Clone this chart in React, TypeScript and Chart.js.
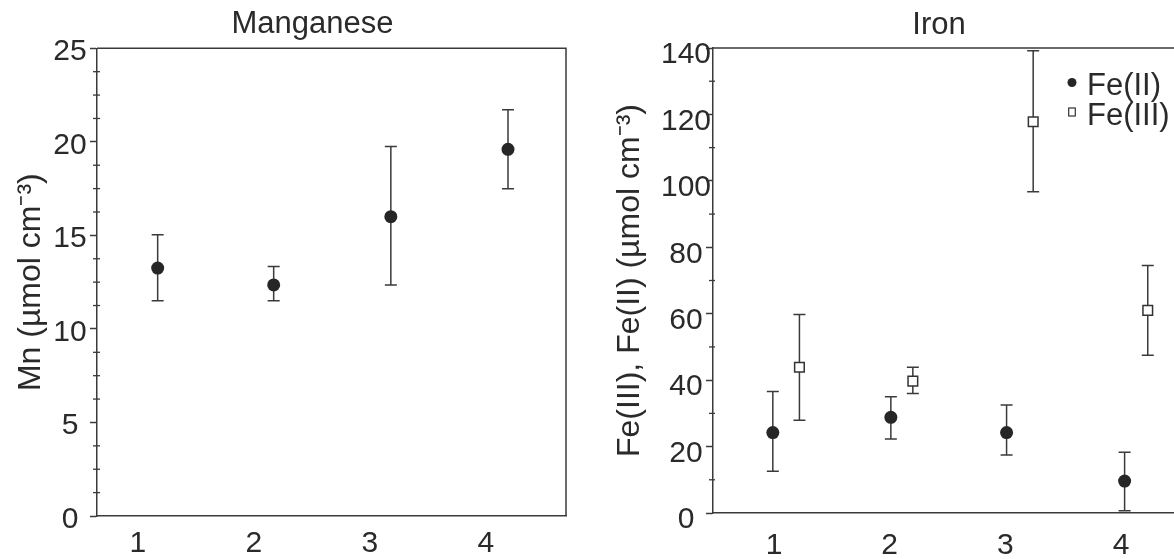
import React, { useEffect, useRef } from 'react';
import { Chart, registerables } from 'chart.js';

Chart.register(...registerables);

// ---------- data ----------
const xTickValues = [1, 2, 3, 4];

const mnYTicks = [0, 5, 10, 15, 20, 25];
const mnMinorTicks = [1.25, 2.5, 3.75, 6.25, 7.5, 8.75, 11.25, 12.5, 13.75, 16.25, 17.5, 18.75, 21.25, 22.5, 23.75];
const mnX = [1.17, 2.17, 3.18, 4.19];
const mnValues = [13.25, 12.35, 16.0, 19.6];
const mnLow = [11.51, 11.51, 12.35, 17.49];
const mnHigh = [15.03, 13.33, 19.75, 21.71];

const feYTicks = [0, 20, 40, 60, 80, 100, 120, 140];
const feMinorTicks = [10, 30, 50, 70, 90, 110, 130];
const fe2X = [0.99, 2.01, 3.01, 4.03];
const fe2Values = [24.2, 28.8, 24.2, 9.6];
const fe2Low = [12.6, 22.3, 17.5, 0.7];
const fe2High = [36.6, 35.0, 32.5, 18.3];
const fe3X = [1.22, 2.2, 3.24, 4.23];
const fe3Values = [43.9, 39.7, 117.8, 61.0];
const fe3Low = [27.9, 36.0, 96.7, 47.5];
const fe3High = [59.8, 43.9, 139.2, 74.5];

// ---------- styles ----------
const FONT = '"Liberation Sans", Arial, Helvetica, sans-serif';
const INK = '#2a2a2a';
const LINE = '#3a3a3a';
const DOT = '#262626';

const errorBarsPlugin = (capHalf: number) => ({
  id: 'errorBars',
  beforeDatasetsDraw(chart: any) {
    const { ctx } = chart;
    const xs = chart.scales.x;
    const ys = chart.scales.y;
    ctx.save();
    ctx.strokeStyle = LINE;
    ctx.lineWidth = 1.5;
    chart.data.datasets.forEach((ds: any) => {
      if (!ds.errLow) return;
      ds.data.forEach((pt: any, j: number) => {
        const x = xs.getPixelForValue(pt.x);
        const yl = ys.getPixelForValue(ds.errLow[j]);
        const yh = ys.getPixelForValue(ds.errHigh[j]);
        ctx.beginPath();
        ctx.moveTo(x, yl);
        ctx.lineTo(x, yh);
        ctx.moveTo(x - capHalf, yl);
        ctx.lineTo(x + capHalf, yl);
        ctx.moveTo(x - capHalf, yh);
        ctx.lineTo(x + capHalf, yh);
        ctx.stroke();
      });
    });
    ctx.restore();
  },
});

const framePlugin = (drawRight: boolean) => ({
  id: 'frame',
  afterDraw(chart: any) {
    const { ctx } = chart;
    const { left, top, right, bottom } = chart.chartArea;
    ctx.save();
    ctx.strokeStyle = LINE;
    ctx.lineWidth = 1.5;
    ctx.beginPath();
    ctx.moveTo(left, top);
    ctx.lineTo(right, top);
    if (drawRight) ctx.lineTo(right, bottom);
    ctx.stroke();
    ctx.restore();
  },
});

const minorTicksPlugin = (values: number[], leftLen: number, rightLen: number) => ({
  id: 'minorTicks',
  afterDraw(chart: any) {
    const { ctx } = chart;
    const ys = chart.scales.y;
    const x0 = chart.chartArea.left;
    ctx.save();
    ctx.strokeStyle = LINE;
    ctx.lineWidth = 1.3;
    values.forEach((v) => {
      const py = ys.getPixelForValue(v);
      ctx.beginPath();
      ctx.moveTo(x0 - leftLen, py);
      ctx.lineTo(x0 + rightLen, py);
      ctx.stroke();
    });
    ctx.restore();
  },
});

const insideLegendPlugin = (cfg: { right: number; top: number; row: number; gap: number; rise: number; size: number }) => ({
  id: 'insideLegend',
  afterDraw(chart: any) {
    const { ctx, chartArea } = chart;
    ctx.save();
    chart.data.datasets.forEach((ds: any, i: number) => {
      const tx = chartArea.right - cfg.right;
      const ty = chartArea.top + cfg.top + i * cfg.row;
      ctx.font = `${cfg.size}px ${FONT}`;
      ctx.fillStyle = INK;
      ctx.textAlign = 'left';
      ctx.textBaseline = 'middle';
      ctx.fillText(ds.label, tx, ty);
      const mx = tx - cfg.gap;
      const my = ty - cfg.rise;
      if (ds.pointStyle === 'rect') {
        ctx.fillStyle = ds.backgroundColor;
        ctx.strokeStyle = ds.borderColor;
        ctx.lineWidth = 1.2;
        ctx.fillRect(mx - 3.3, my - 4, 6.6, 8);
        ctx.strokeRect(mx - 3.3, my - 4, 6.6, 8);
      } else {
        ctx.fillStyle = ds.backgroundColor;
        ctx.beginPath();
        ctx.arc(mx, my, 4.5, 0, Math.PI * 2);
        ctx.fill();
      }
    });
    ctx.restore();
  },
});

function makeScales(o: any) {
  const scales: any = {
    x: {
      type: 'linear',
      min: o.xMin,
      max: o.xMax,
      afterBuildTicks: (s: any) => {
        s.ticks = xTickValues.map((v) => ({ value: v }));
      },
      afterFit: (s: any) => {
        s.height = o.xHeight;
        s.paddingLeft = 0;
        s.paddingRight = 0;
      },
      grid: { display: false, drawTicks: false },
      border: { display: true, color: LINE, width: 1.5 },
      ticks: {
        font: { family: FONT, size: 30 },
        color: INK,
        padding: o.xPad,
        autoSkip: false,
        maxRotation: 0,
        callback: (v: any) => String(v),
      },
    },
    y: {
      type: 'linear',
      min: o.yMin,
      max: o.yMax,
      afterBuildTicks: (s: any) => {
        s.ticks = o.yTicks.map((v: number) => ({ value: v }));
      },
      afterFit: (s: any) => {
        s.width = o.yWidth;
      },
      grid: { display: true, drawOnChartArea: false, drawTicks: true, tickLength: 7, tickWidth: 1.5, tickColor: LINE },
      border: { display: true, color: LINE, width: 1.5 },
      ticks: {
        font: { family: FONT, size: 30 },
        color: INK,
        padding: o.yPad,
        crossAlign: 'center',
        labelOffset: o.labelOffset,
        autoSkip: false,
        callback: (v: any) => String(v),
      },
      title: {
        display: true,
        text: o.yTitle,
        font: { family: FONT, size: 32 },
        color: INK,
        padding: { top: o.yTitlePad, bottom: 0 },
      },
    },
  };
  if (o.rightGutter) {
    // empty right-hand axis that only reserves space beside the frame
    scales.gutter = {
      type: 'linear',
      position: 'right',
      display: true,
      grid: { display: false, drawTicks: false },
      border: { display: false },
      ticks: { display: false },
      afterFit: (s: any) => {
        s.width = o.rightGutter;
      },
    };
  }
  return scales;
}

function ChartCanvas({ config, left, width }: { config: any; left: number; width: number }) {
  const ref = useRef<HTMLCanvasElement | null>(null);
  useEffect(() => {
    if (!ref.current) return;
    const chart = new Chart(ref.current, config);
    return () => chart.destroy();
  }, []);
  return (
    <canvas
      ref={ref}
      width={width}
      height={559}
      style={{ position: 'absolute', left, top: 0, width, height: 559, display: 'block' }}
    />
  );
}

const mnConfig = {
  type: 'scatter',
  data: {
    datasets: [
      {
        label: 'Mn',
        data: mnX.map((x, i) => ({ x, y: mnValues[i] })),
        errLow: mnLow,
        errHigh: mnHigh,
        pointStyle: 'circle',
        pointRadius: 6.5,
        backgroundColor: DOT,
        borderColor: DOT,
        borderWidth: 0,
        showLine: false,
      },
    ],
  },
  options: {
    responsive: false,
    animation: false,
    events: [],
    layout: { padding: 0, autoPadding: false },
    plugins: {
      legend: { display: false },
      tooltip: { enabled: false },
      title: {
        display: true,
        text: 'Manganese',
        font: { family: FONT, size: 31, weight: 'normal' },
        color: INK,
        padding: { top: 5.7, bottom: 5.4 },
      },
    },
    scales: makeScales({
      xMin: 0.647,
      xMax: 4.69,
      xHeight: 43,
      xPad: 10,
      yMin: 0,
      yMax: 25,
      yTicks: mnYTicks,
      yWidth: 97,
      yPad: 3.3,
      labelOffset: 3.5,
      yTitle: 'Mn (µmol cm⁻³)',
      yTitlePad: 11.8,
      rightGutter: 59,
    }),
  },
  plugins: [errorBarsPlugin(6), framePlugin(true), minorTicksPlugin(mnMinorTicks, 4, 3)],
};

const feConfig = {
  type: 'scatter',
  data: {
    datasets: [
      {
        label: 'Fe(II)',
        data: fe2X.map((x, i) => ({ x, y: fe2Values[i] })),
        errLow: fe2Low,
        errHigh: fe2High,
        pointStyle: 'circle',
        pointRadius: 6.5,
        backgroundColor: DOT,
        borderColor: DOT,
        borderWidth: 0,
        showLine: false,
      },
      {
        label: 'Fe(III)',
        data: fe3X.map((x, i) => ({ x, y: fe3Values[i] })),
        errLow: fe3Low,
        errHigh: fe3High,
        pointStyle: 'rect',
        pointRadius: 6.8,
        backgroundColor: '#ffffff',
        borderColor: '#333333',
        borderWidth: 1.5,
        showLine: false,
      },
    ],
  },
  options: {
    responsive: false,
    animation: false,
    events: [],
    layout: { padding: 0, autoPadding: false },
    plugins: {
      legend: { display: false },
      tooltip: { enabled: false },
      title: {
        display: true,
        text: 'Iron',
        font: { family: FONT, size: 31, weight: 'normal' },
        color: INK,
        padding: { top: 6.4, bottom: 4.4 },
      },
    },
    scales: makeScales({
      xMin: 0.473,
      xMax: 5.442,
      xHeight: 46,
      xPad: 15,
      yMin: 0,
      yMax: 140,
      yTicks: feYTicks,
      yWidth: 123,
      yPad: -5,
      labelOffset: 7,
      yTitle: 'Fe(III), Fe(II) (µmol cm⁻³)',
      yTitlePad: 20.8,
    }),
  },
  plugins: [
    errorBarsPlugin(6),
    framePlugin(false),
    minorTicksPlugin(feMinorTicks, 4, 2),
    insideLegendPlugin({ right: 201, top: 38.5, row: 29.5, gap: 15, rise: 4, size: 31 }),
  ],
};

export default function App() {
  return (
    <div style={{ position: 'absolute', left: 0, top: 0, width: 1174, height: 559, background: '#ffffff', overflow: 'hidden' }}>
      <ChartCanvas config={mnConfig} left={0} width={625} />
      <ChartCanvas config={feConfig} left={590} width={698} />
    </div>
  );
}
